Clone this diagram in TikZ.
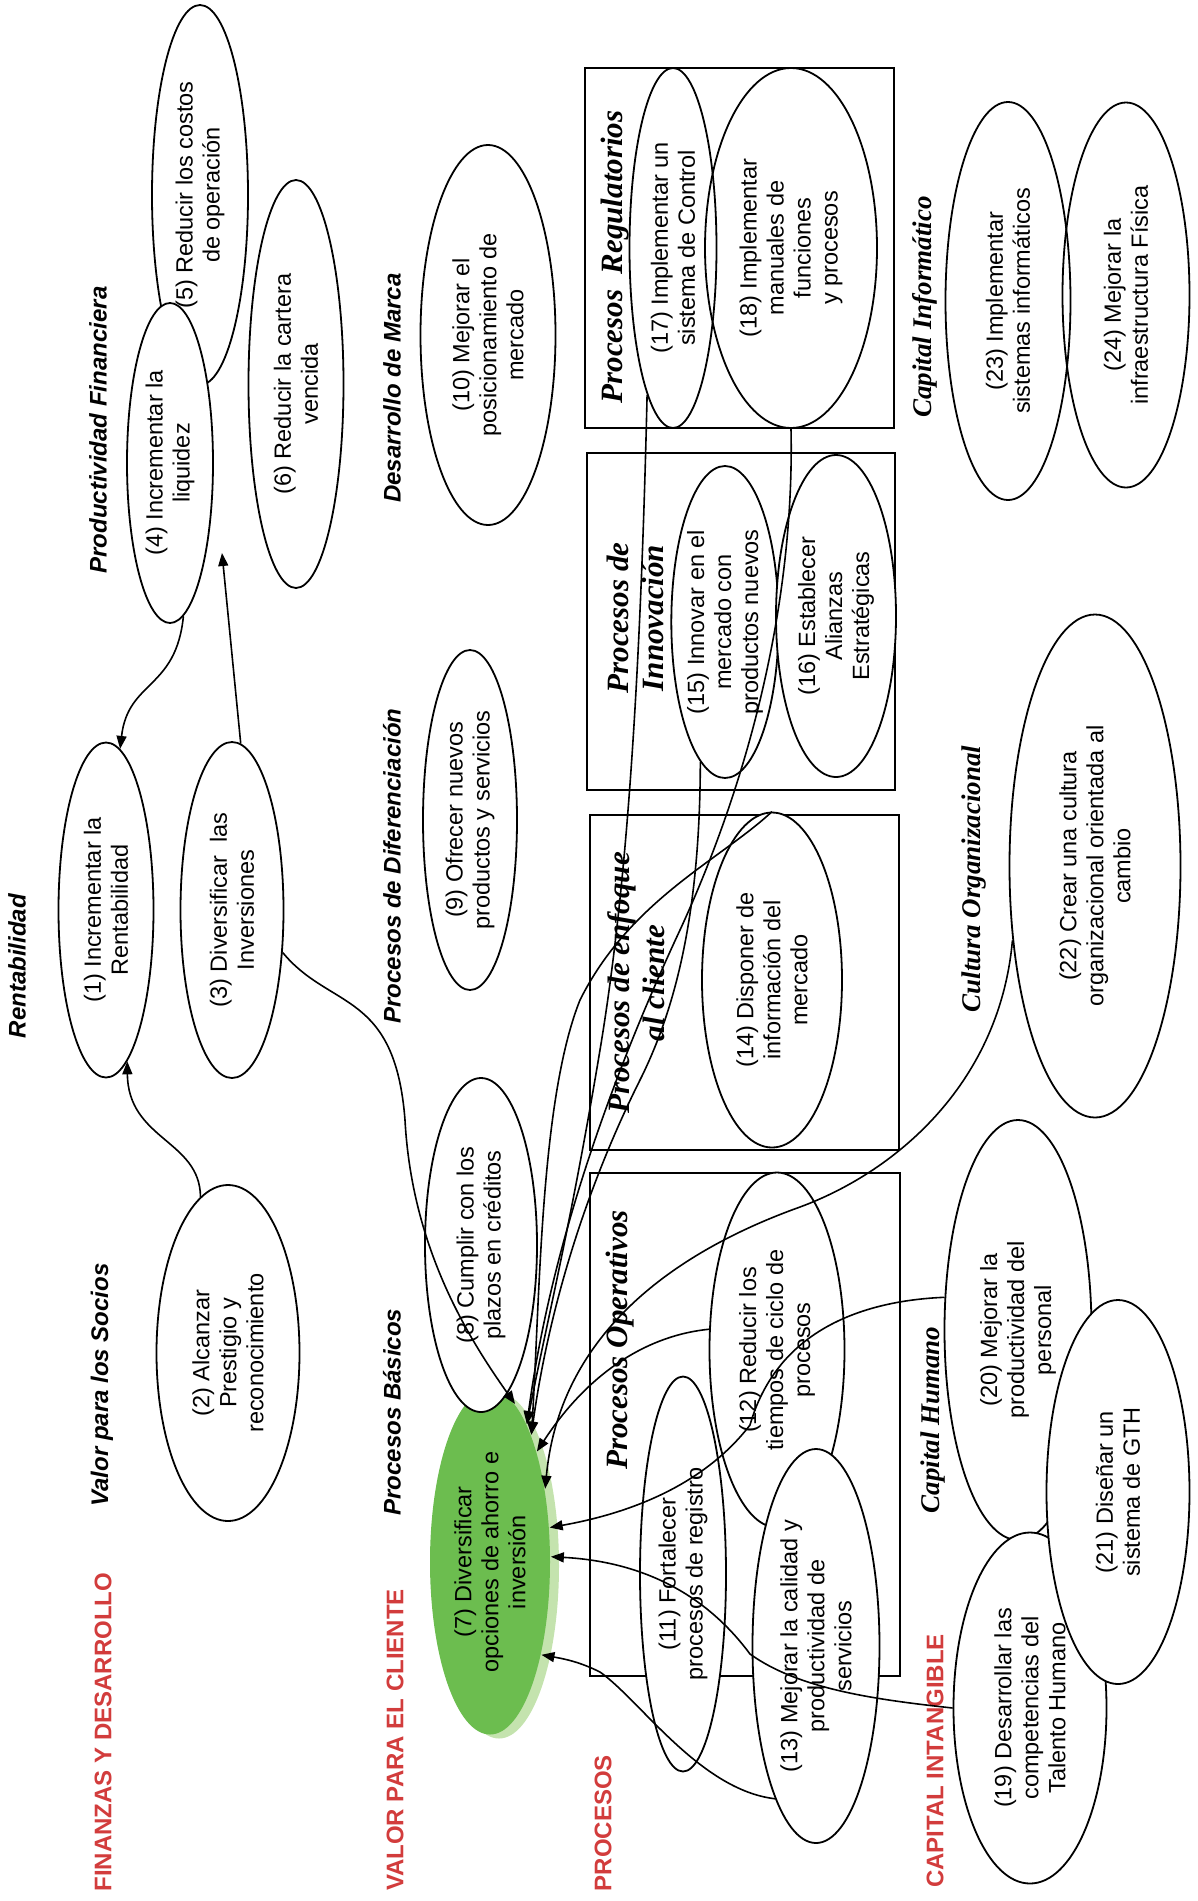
\documentclass[tikz,border=0pt]{standalone}
\usepackage{fontspec}
\setmainfont{Liberation Sans}
\newfontfamily\timesfont{Liberation Serif}
\usetikzlibrary{shapes.geometric, arrows.meta}
\definecolor{TitleRed}{HTML}{D23C3C}
\definecolor{ObjGreen}{HTML}{6CBD4F}
\definecolor{RimGreen}{HTML}{C4E3AE}

\newcommand{\objfont}{\fontsize{23.5}{27}\selectfont}
\newcommand{\grpfont}{\fontsize{24}{28}\selectfont\bfseries\itshape}
\newcommand{\procfont}{\timesfont\fontsize{31}{35}\selectfont\bfseries\itshape}
\newcommand{\capifont}{\timesfont\fontsize{27}{31}\selectfont\bfseries\itshape}
\newcommand{\perspfont}{\fontsize{24}{28}\selectfont\bfseries}

\tikzset{
  obj/.style 2 args={ellipse, draw, line width=1.8pt, fill=white, rotate=90,
    inner sep=0pt, align=center, font=\objfont, minimum width=#1pt, minimum height=#2pt},
  grp/.style={rotate=90, font=\grpfont},
  proc/.style={rotate=90, font=\procfont, align=center},
  capital/.style={rotate=90, font=\capifont},
  persp/.style={rotate=90, font=\perspfont, text=TitleRed},
  procbox/.style={line width=2.2pt},
  link/.style={line width=1.6pt, -{Triangle[length=13pt,width=10pt]}},
}

\begin{document}
\begin{tikzpicture}[x=1pt, y=-1pt]
  \useasboundingbox (0,0) rectangle (1197,1901);

  % perspectives
  \node[persp] (pFin) at (103,1732) {FINANZAS Y DESARROLLO};
  \node[persp] (pCli) at (395,1740) {VALOR PARA EL CLIENTE};
  \node[persp] (pPro) at (603,1823) {PROCESOS};
  \node[persp] (pCap) at (935,1761) {CAPITAL INTANGIBLE};

  % group titles
  \node[grp] (lRent) at (17,966) {Rentabilidad};
  \node[grp] (lSocios) at (102,1385) {Valor para los Socios};
  \node[grp] (lProd) at (98,430) {Productividad Financiera};
  \node[grp] (lMarca) at (392,388) {Desarrollo de Marca};
  \node[grp] (lDif) at (392,866) {Procesos de Diferenciación};
  \node[grp] (lBas) at (392,1412) {Procesos Básicos};

  % process frames
  \draw[procbox] (585,68) rectangle (894,428);
  \draw[procbox] (587,453) rectangle (895,790);
  \draw[procbox] (590,815) rectangle (899,1150);
  \draw[procbox] (590,1173) rectangle (900,1676);
  \node[proc] (lReg) at (615,257) {Procesos\ \ Regulatorios};
  \node[proc] (lInn) at (635,618) {Procesos de\\Innovación};
  \node[proc] (lEnf) at (636,983) {Procesos de enfoque\\al cliente};
  \node[proc] (lOpe) at (620,1340) {Procesos Operativos};

  \node[capital] (lInf) at (925,307) {Capital Informático};
  \node[capital] (lCul) at (974,879) {Cultura Organizacional};
  \node[capital] (lHum) at (933,1420) {Capital Humano};

  % finanzas
  \node[obj={380}{96}] (n5) at (200,195) {(5) Reducir los costos\\de operación};
  \node[obj={320}{86}] (n4) at (170,463) {(4) Incrementar la\\liquidez};
  \node[obj={408}{95}] (n6) at (296,384) {(6) Reducir la cartera\\vencida};
  \node[obj={335}{95}] (n1) at (106,910) {(1) Incrementar la\\Rentabilidad};
  \node[obj={336}{103}] (n3) at (232,910) {(3) Diversificar\ \ las\\Inversiones};
  \node[obj={336}{143}] (n2) at (228,1353) {(2) Alcanzar\\Prestigio y\\reconocimiento};

  % cliente
  \node[obj={380}{135}] (n10) at (488,335) {(10) Mejorar el\\posicionamiento de\\mercado};
  \node[obj={340}{94}] (n9) at (470,820) {(9) Ofrecer nuevos\\productos y servicios};
  \node[ellipse, fill=RimGreen, rotate=90, minimum width=345pt, minimum height=120pt] (n7rim) at (499,1566) {};
  \node[obj={345}{120}, draw=none, fill=ObjGreen] (n7) at (490,1562) {(7) Diversificar\\opciones de ahorro e\\inversión};
  \node[obj={334}{112}] (n8) at (481,1245) {(8) Cumplir con los\\plazos en créditos};

  % procesos
  \node[obj={360}{87}] (n17) at (673,248) {(17) Implementar un\\sistema de Control};
  \node[obj={360}{172}, fill=none] (n18) at (791,248) {(18) Implementar\\manuales de\\funciones\\y procesos};
  \node[obj={312}{104}] (n15) at (725,622) {(15) Innovar en el\\mercado con\\productos nuevos};
  \node[obj={322}{120}] (n16) at (836,616) {(16) Establecer\\Alianzas\\Estratégicas};
  \node[obj={335}{140}] (n14) at (772,980) {(14) Disponer de\\información del\\mercado};
  \node[obj={355}{135}] (n12) at (777,1350) {(12) Reducir los\\tiempos de ciclo de\\procesos};
  \node[obj={395}{86}] (n11) at (683,1574) {(11) Fortalecer\\procesos de registro};
  \node[obj={394}{127}] (n13) at (816,1646) {(13) Mejorar la calidad y\\productividad de\\servicios};

  % capital intangible
  \node[obj={398}{125}] (n23) at (1008,301) {(23) Implementar\\sistemas informáticos};
  \node[obj={385}{127}, fill=none] (n24) at (1126,295) {(24) Mejorar la\\infraestructura Física};
  \node[obj={503}{171}] (n22) at (1095,866) {(22) Crear una cultura\\organizacional orientada al\\cambio};
  \node[obj={420}{147}] (n20) at (1018,1330) {(20) Mejorar la\\productividad del\\personal};
  \node[obj={351}{153}] (n19) at (1030,1708) {(19) Desarrollar las\\competencias del\\Talento Humano};
  \node[obj={384}{143}] (n21) at (1118,1492) {(21) Diseñar un\\sistema de GTH};

  % links
  \coordinate (t4) at (222,553);
  \draw[link] (n2.10) .. controls (200,1140) and (128,1140) .. (n1.188);
  \draw[link] (n4.185) .. controls (176,690) and (128,680) .. (n1.-5);
  \draw[link] (n3.-3) -- (t4);
  \draw[link] (n3.-130) .. controls (330,1010) and (395,990) .. (405,1120)
     .. controls (412,1250) and (470,1340) .. (n7.-9);
  \draw[link] (n17.170) .. controls (640,700) and (625,900) .. (600,1050)
     .. controls (570,1230) and (545,1330) .. (n7.-15);
  \draw[link] (n18.west) .. controls (795,620) and (740,800) .. (680,930)
     .. controls (610,1080) and (550,1250) .. (n7.-15);
  \draw[link] (n15.170) .. controls (700,900) and (680,1000) .. (640,1080)
     .. controls (590,1180) and (550,1300) .. (n7.-18);
  \draw[link] (n14.east) .. controls (720,860) and (630,900) .. (580,1000)
     .. controls (540,1100) and (540,1300) .. (n7.-18);
  \draw[link] (n12.73) .. controls (650,1335) and (590,1370) .. (n7.-23);
  \draw[link] (n22.132) .. controls (1000,1080) and (900,1170) .. (800,1207)
     .. controls (680,1250) and (560,1330) .. (n7.-37);
  \draw[link] (n20.66) .. controls (880,1300) and (780,1320) .. (750,1425)
     .. controls (700,1490) and (620,1515) .. (n7.-60);
  \draw[link] (n19.north) .. controls (880,1700) and (800,1690) .. (750,1654)
     .. controls (710,1600) and (650,1562) .. (n7.-85);
  \draw[link] (n13.165) .. controls (700,1790) and (640,1700) .. (600,1672)
     .. controls (580,1662) and (565,1659) .. (n7.-151);
\end{tikzpicture}
\end{document}
